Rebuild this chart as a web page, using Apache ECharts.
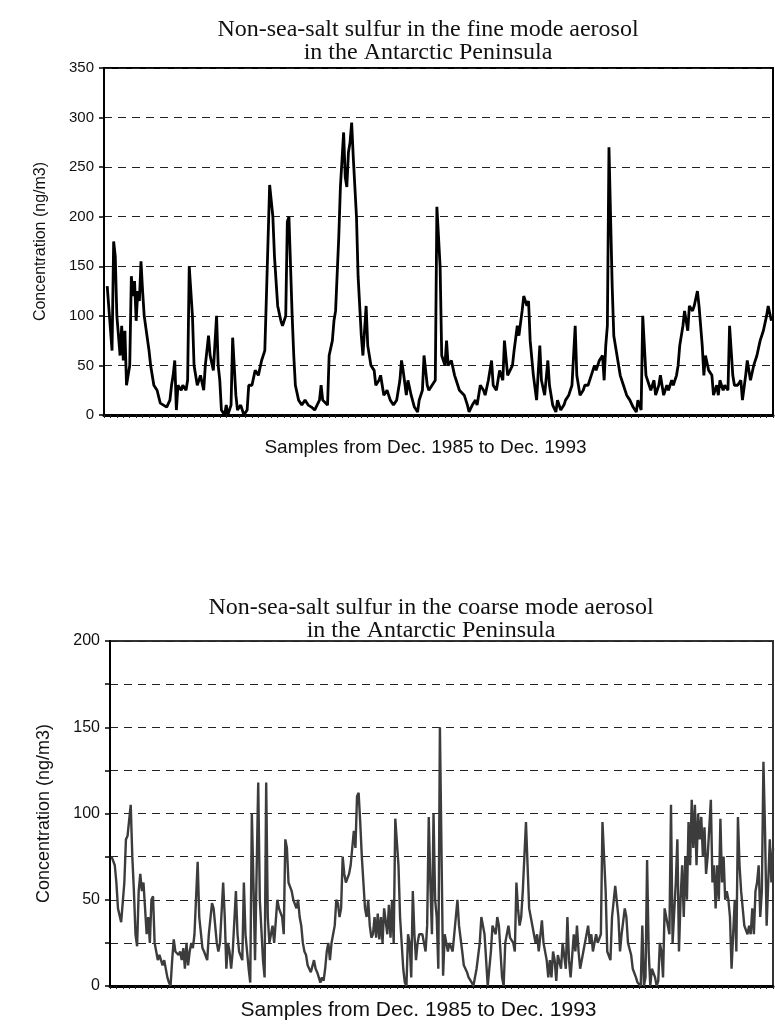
<!DOCTYPE html>
<html>
<head>
<meta charset="utf-8">
<script src="https://cdn.jsdelivr.net/npm/echarts@6/dist/echarts.min.js"></script>
<style>
  html, body { margin: 0; padding: 0; background: #fff; }
  #chart { width: 775px; height: 1029px; }
</style>
</head>
<body>
<div id="chart"></div>
<script>
// samples run Dec. 1985 -> Dec. 1993, numbered 0..416
const sampleCount = 416;

// fine mode nss sulfur, [sample, ng/m3]
const fineSulfur = [
  [2,130],[5,65],[6,175],[7,160],[8,100],[9,80],[10,60],[11,90],[12,55],[13,85],[14,30],[15,40],
  [16,50],[17,140],[18,120],[19,135],[20,95],[21,125],[22,115],[23,155],[24,125],[25,100],[28,65],
  [29,50],[31,30],[33,25],[35,12],[37,10],[39,8],[41,15],[42,30],[43,40],[44,55],[45,5],[46,30],
  [48,25],[49,30],[51,25],[52,35],[53,150],[55,100],[56,50],[58,30],[60,40],[62,25],[63,50],[65,80],
  [66,60],[68,45],[70,100],[71,50],[72,35],[73,5],[75,0],[76,10],[77,0],[79,10],[80,78],[82,20],
  [83,5],[85,10],[87,0],[89,5],[90,30],[92,30],[94,45],[96,40],[98,55],[100,65],[101,120],[103,232],
  [105,200],[106,160],[108,110],[110,95],[111,90],[113,100],[114,195],[115,200],[116,150],[117,100],
  [118,60],[119,30],[121,15],[123,10],[125,15],[127,10],[129,8],[131,5],[132,3],[134,15],[135,30],
  [136,15],[139,10],[140,60],[142,75],[143,95],[144,105],[146,180],[147,230],[149,285],[150,240],
  [151,230],[152,265],[153,275],[154,295],[155,260],[157,200],[158,140],[160,80],[161,60],[163,110],
  [164,70],[166,50],[168,45],[169,30],[171,35],[172,40],[174,20],[176,25],[178,15],[180,10],[182,15],
  [184,35],[185,55],[186,45],[188,20],[189,35],[191,20],[193,8],[195,3],[196,15],[198,25],[199,60],
  [201,30],[202,25],[204,30],[206,35],[207,210],[209,150],[210,60],[212,50],[213,75],[214,50],
  [216,55],[218,40],[219,35],[221,25],[224,20],[226,10],[227,3],[229,10],[231,15],[232,10],[234,30],
  [236,25],[237,20],[239,35],[241,55],[242,30],[244,25],[246,45],[248,35],[249,75],[251,40],[254,50],
  [255,65],[257,90],[258,80],[260,105],[261,120],[263,110],[264,115],[265,75],[267,40],[269,15],
  [271,70],[272,35],[274,20],[276,55],[277,30],[279,10],[281,3],[282,15],[284,5],[286,10],[287,15],
  [289,20],[291,30],[293,90],[294,40],[296,20],[298,25],[299,30],[301,30],[303,40],[305,50],[306,45],
  [308,55],[310,60],[311,35],[312,70],[313,90],[314,270],[315,200],[316,130],[317,80],[319,60],
  [321,40],[323,30],[325,20],[327,15],[329,8],[331,3],[332,15],[334,5],[335,100],[337,40],[339,30],
  [340,25],[342,35],[343,20],[345,30],[346,40],[348,20],[350,30],[351,25],[353,35],[354,30],[356,40],
  [357,50],[358,70],[360,90],[361,105],[363,85],[364,110],[366,105],[367,110],[369,125],[370,110],
  [372,70],[373,40],[374,60],[376,45],[378,40],[379,20],[381,30],[382,20],[383,35],[385,25],[386,30],
  [388,25],[389,90],[391,40],[392,30],[394,30],[396,35],[397,15],[399,40],[400,55],[402,35],[404,50],
  [406,60],[408,75],[410,85],[412,100],[413,110],[415,95]
];

// coarse mode nss sulfur, [sample, ng/m3]
const coarseSulfur = [
  [1,75],[2,75],[3,70],[4,60],[5,45],[7,37],[8,38],[9,60],[10,85],[11,87],[13,105],[14,75],[15,55],
  [16,30],[17,23],[18,55],[19,65],[20,55],[21,60],[22,45],[23,30],[24,40],[25,25],[26,50],[27,52],
  [28,25],[29,20],[30,15],[31,18],[33,12],[34,15],[36,5],[37,2],[38,0],[39,15],[40,27],[41,20],
  [43,18],[44,20],[45,15],[46,22],[47,10],[48,25],[49,12],[50,20],[51,25],[52,22],[53,30],[55,72],
  [56,40],[58,22],[59,20],[61,15],[62,30],[64,48],[65,45],[67,25],[68,20],[69,25],[71,60],[72,40],
  [73,10],[74,25],[75,20],[76,10],[77,20],[79,55],[80,30],[81,20],[83,15],[84,60],[85,30],[86,20],
  [87,10],[88,2],[89,100],[90,60],[91,15],[93,118],[94,50],[96,15],[97,5],[98,118],[99,40],[100,25],
  [101,30],[102,35],[103,25],[105,50],[106,45],[108,40],[109,30],[110,85],[111,80],[112,60],[114,55],
  [115,50],[117,45],[118,50],[119,40],[120,35],[121,25],[122,20],[123,18],[124,12],[125,10],[126,8],
  [128,15],[129,10],[130,8],[131,5],[132,2],[133,5],[134,3],[135,10],[136,20],[137,25],[138,15],
  [139,25],[140,30],[141,35],[142,50],[143,48],[144,40],[145,45],[146,75],[147,65],[148,60],[150,65],
  [151,70],[152,80],[153,90],[154,80],[155,110],[156,112],[157,95],[158,75],[159,60],[160,45],
  [161,40],[162,50],[163,35],[164,28],[165,30],[166,40],[167,28],[168,42],[169,27],[170,40],[171,25],
  [172,45],[174,30],[175,47],[176,28],[177,50],[178,25],[179,97],[181,70],[182,40],[184,10],[185,2],
  [186,0],[187,30],[188,25],[189,5],[190,55],[191,30],[192,15],[193,25],[194,30],[196,30],[197,25],
  [198,20],[199,35],[200,98],[201,60],[202,30],[203,100],[204,50],[205,40],[206,10],[207,150],
  [209,6],[210,30],[212,20],[213,25],[215,20],[216,30],[218,50],[219,35],[221,20],[222,12],[224,8],
  [225,5],[227,2],[228,0],[229,5],[230,10],[232,25],[233,40],[234,35],[235,30],[236,15],[237,0],
  [239,20],[240,35],[242,30],[243,40],[244,35],[245,20],[246,5],[247,0],[248,25],[250,35],[251,28],
  [253,25],[254,20],[255,60],[256,45],[257,35],[258,40],[259,55],[261,95],[262,70],[263,45],[264,40],
  [266,30],[267,25],[268,30],[269,20],[271,38],[272,25],[274,15],[275,5],[276,15],[277,5],[278,20],
  [279,15],[280,3],[281,18],[283,10],[284,25],[286,10],[287,40],[288,15],[289,5],[291,30],[292,20],
  [293,35],[294,20],[295,10],[297,20],[298,25],[300,35],[301,25],[302,30],[303,20],[304,25],[305,30],
  [306,25],[308,30],[309,95],[311,55],[312,20],[314,15],[315,40],[317,58],[319,40],[320,20],[321,30],
  [323,45],[324,40],[325,25],[327,18],[328,10],[330,5],[331,2],[333,0],[334,35],[335,0],[336,5],
  [337,73],[338,20],[339,0],[340,10],[342,5],[343,0],[344,3],[345,25],[346,20],[347,5],[348,45],
  [349,40],[350,35],[351,30],[352,105],[353,25],[355,60],[356,85],[357,20],[358,50],[359,70],[360,40],
  [361,75],[362,50],[363,95],[364,70],[365,108],[366,80],[367,105],[368,70],[369,100],[370,85],
  [371,98],[372,75],[373,92],[374,65],[375,75],[377,108],[378,60],[379,70],[380,45],[381,70],[382,50],
  [383,97],[384,60],[385,75],[386,50],[387,55],[388,50],[389,40],[390,10],[391,30],[392,50],[393,20],
  [394,98],[395,70],[396,55],[397,45],[398,35],[400,30],[401,35],[402,30],[403,45],[404,30],[405,55],
  [406,60],[407,70],[408,40],[409,55],[410,130],[411,90],[412,35],[413,60],[414,85],[415,60],[416,80]
];

const fineAxis = { max: 350, interval: 50 };
const coarseAxis = { max: 200, interval: 25, labelEvery: 50 };

const titles = [
  'Non-sea-salt sulfur in the fine mode aerosol\nin the Antarctic Peninsula',
  'Non-sea-salt sulfur in the coarse mode aerosol\nin the Antarctic Peninsula'
];
const xName = 'Samples from Dec. 1985 to Dec. 1993';
const yName = 'Concentration (ng/m3)';

const serif = '"Liberation Serif", "DejaVu Serif", serif';
const sans = '"Liberation Sans", Arial, sans-serif';

var chart = echarts.init(document.getElementById('chart'));

// axis name sits a bit left of centre in the scan, so pad it on the right
function makeX(gi, nameGap, nameSize, shift) {
  return {
    type: 'value', gridIndex: gi, min: 0, max: sampleCount, interval: 4,
    name: xName, nameLocation: 'middle', nameGap: nameGap,
    nameTextStyle: { fontFamily: sans, fontSize: nameSize, color: '#111', padding: [0, shift, 0, 0] },
    axisLine: { show: true, lineStyle: { color: '#000', width: 3 } },
    axisTick: { show: true, length: 3, lineStyle: { color: '#222', width: 1 } },
    axisLabel: { show: false },
    splitLine: { show: false }
  };
}

function makeY(gi, ax, nameGap, nameSize, labelSize) {
  return {
    type: 'value', gridIndex: gi, min: 0, max: ax.max, interval: ax.interval,
    name: yName, nameLocation: 'middle', nameGap: nameGap, nameRotate: 90,
    nameTextStyle: { fontFamily: sans, fontSize: nameSize, color: '#111' },
    axisLine: { show: true, lineStyle: { color: '#000', width: 2 } },
    axisTick: { show: true, length: 5, lineStyle: { color: '#000', width: 1.5 } },
    axisLabel: {
      fontFamily: sans, fontSize: labelSize, color: '#111', margin: 10,
      formatter: v => (ax.labelEvery && v % ax.labelEvery !== 0) ? '' : String(v)
    },
    splitLine: { show: true, lineStyle: { color: '#222', type: [8, 6], width: 1.2 } }
  };
}

var option = {
  backgroundColor: '#fff',
  animation: false,
  title: [
    { text: titles[0], left: 423, top: 13, textAlign: 'center',
      textStyle: { fontFamily: serif, fontSize: 24, fontWeight: 'normal', lineHeight: 23, color: '#111' } },
    { text: titles[1], left: 426, top: 591, textAlign: 'center',
      textStyle: { fontFamily: serif, fontSize: 24, fontWeight: 'normal', lineHeight: 23, color: '#111' } }
  ],
  grid: [
    { left: 104, top: 68, width: 669, height: 347, show: true, borderColor: '#000', borderWidth: 2 },
    { left: 110, top: 641, width: 663, height: 345, show: true, borderColor: '#333', borderWidth: 2 }
  ],
  xAxis: [makeX(0, 23, 19, 26), makeX(1, 14, 21, 46)],
  yAxis: [makeY(0, fineAxis, 55, 16, 15), makeY(1, coarseAxis, 57, 18, 16)],
  series: [
    { type: 'line', xAxisIndex: 0, yAxisIndex: 0, data: fineSulfur, showSymbol: false,
      lineStyle: { color: '#000', width: 2.8 } },
    { type: 'line', xAxisIndex: 1, yAxisIndex: 1, data: coarseSulfur, showSymbol: false,
      lineStyle: { color: '#3c3c3c', width: 2.4 } }
  ]
};

chart.setOption(option);
</script>
</body>
</html>
